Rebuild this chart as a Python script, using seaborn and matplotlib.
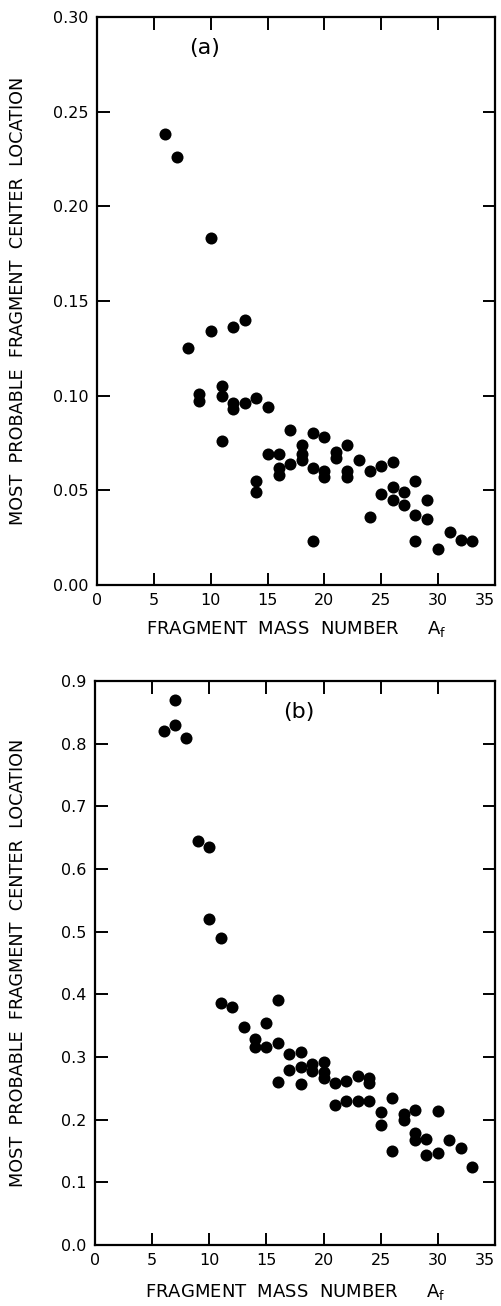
import matplotlib
matplotlib.use("Agg")
import matplotlib.pyplot as plt
import seaborn as sns
import pandas as pd

# Panel (a)
a_mass = [6, 7, 10, 8, 10, 12, 13, 9, 9, 11, 11, 12, 12, 13, 14, 15, 11, 17,
          15, 16, 16, 16, 14, 14, 17, 18, 18, 18, 19, 20, 19, 19, 20, 20, 21,
          21, 22, 22, 22, 23, 24, 25, 26, 25, 26, 26, 27, 27, 28, 29, 28, 29,
          24, 28, 30, 31, 32, 33]
a_loc = [0.238, 0.226, 0.183, 0.125, 0.134, 0.136, 0.140, 0.101, 0.097, 0.105,
         0.100, 0.096, 0.093, 0.096, 0.099, 0.094, 0.076, 0.082, 0.069, 0.069,
         0.062, 0.058, 0.055, 0.049, 0.064, 0.074, 0.069, 0.066, 0.080, 0.078,
         0.062, 0.023, 0.060, 0.057, 0.070, 0.067, 0.074, 0.060, 0.057, 0.066,
         0.060, 0.063, 0.065, 0.048, 0.052, 0.045, 0.049, 0.042, 0.055, 0.045,
         0.037, 0.035, 0.036, 0.023, 0.019, 0.028, 0.024, 0.023]

# Panel (b)
b_mass = [6, 7, 7, 8, 9, 10, 10, 11, 11, 12, 13, 15, 16, 14, 14, 15, 16, 17,
          17, 16, 18, 18, 18, 19, 19, 20, 20, 20, 21, 21, 22, 22, 23, 23, 24,
          24, 24, 25, 25, 26, 26, 27, 27, 28, 28, 28, 29, 29, 30, 30, 31, 32, 33]
b_loc = [0.820, 0.869, 0.829, 0.809, 0.644, 0.635, 0.520, 0.490, 0.386, 0.380,
         0.348, 0.354, 0.391, 0.328, 0.316, 0.316, 0.322, 0.305, 0.280, 0.260,
         0.308, 0.284, 0.257, 0.289, 0.278, 0.292, 0.276, 0.266, 0.258, 0.223,
         0.262, 0.230, 0.270, 0.230, 0.266, 0.258, 0.230, 0.212, 0.191, 0.234,
         0.150, 0.209, 0.199, 0.215, 0.179, 0.168, 0.169, 0.144, 0.214, 0.147,
         0.167, 0.155, 0.125]

x_ticks = [0, 5, 10, 15, 20, 25, 30, 35]
a_yticks = [0.00, 0.05, 0.10, 0.15, 0.20, 0.25, 0.30]
a_ytick_labels = ["0.00", "0.05", "0.10", "0.15", "0.20", "0.25", "0.30"]
b_yticks = [0.0, 0.1, 0.2, 0.3, 0.4, 0.5, 0.6, 0.7, 0.8, 0.9]
b_ytick_labels = ["0.0", "0.1", "0.2", "0.3", "0.4", "0.5", "0.6", "0.7", "0.8", "0.9"]

ylabel = "MOST  PROBABLE  FRAGMENT  CENTER  LOCATION"
xlabel = r"FRAGMENT  MASS  NUMBER     $\mathregular{A_f}$"

sns.set_style("ticks")
plt.rcParams["font.family"] = ["DejaVu Sans"]
plt.rcParams["text.color"] = "black"
plt.rcParams["axes.labelcolor"] = "black"
plt.rcParams["xtick.color"] = "black"
plt.rcParams["ytick.color"] = "black"

fig = plt.figure(figsize=(5.01, 13.06), dpi=100)
ax1 = fig.add_axes([0.1936, 0.5521, 0.7944, 0.4349])
ax2 = fig.add_axes([0.1896, 0.0467, 0.7984, 0.4319])

df_a = pd.DataFrame({"A": a_mass, "loc": a_loc})
df_b = pd.DataFrame({"A": b_mass, "loc": b_loc})

for ax, df, yt, ytl, ylim, panel, ppos, ylx, xly in [
    (ax1, df_a, a_yticks, a_ytick_labels, (0, 0.30), "(a)", (0.27, 0.945), -0.176, -0.06),
    (ax2, df_b, b_yticks, b_ytick_labels, (0, 0.9), "(b)", (0.51, 0.945), -0.171, -0.066),
]:
    sns.scatterplot(data=df, x="A", y="loc", ax=ax, color="black", s=75,
                    edgecolor="black", linewidth=0, legend=False)
    ax.set_xlim(0, 35)
    ax.set_ylim(*ylim)
    ax.set_xticks(x_ticks)
    ax.set_xticklabels([str(t) for t in x_ticks], fontsize=11.5)
    ax.get_xticklabels()[-1].set_horizontalalignment("right")
    ax.set_yticks(yt)
    ax.set_yticklabels(ytl, fontsize=11.5)
    ax.tick_params(direction="in", length=9, width=1.4, top=True, right=True,
                   colors="black", pad=6)
    for sp in ax.spines.values():
        sp.set_visible(True)
        sp.set_linewidth(1.6)
        sp.set_color("black")
    ax.set_xlabel(xlabel, fontsize=13, color="black")
    ax.xaxis.set_label_coords(0.5, xly)
    ax.set_ylabel(ylabel, fontsize=12.7, color="black")
    ax.yaxis.set_label_coords(ylx, 0.5)
    ax.text(ppos[0], ppos[1], panel, transform=ax.transAxes, fontsize=16,
            ha="center", va="center", color="black")

fig.savefig("out.png", dpi=100, facecolor="white")
